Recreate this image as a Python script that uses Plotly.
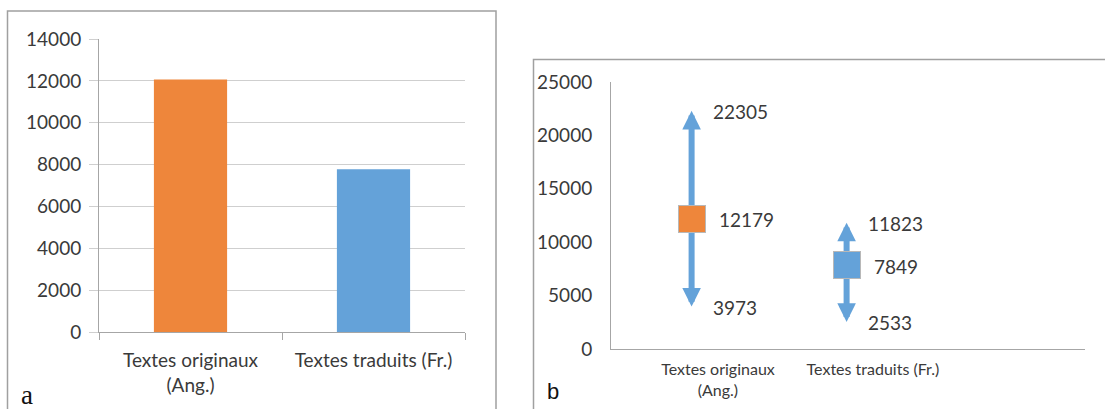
import plotly.graph_objects as go

W, H = 1105, 409

# ---- data: panel a ----
categories_a = ["Textes originaux<br>(Ang.)", "Textes traduits (Fr.)"]
values_a = [12070, 7780]
yticks_a = [0, 2000, 4000, 6000, 8000, 10000, 12000, 14000]

# ---- data: panel b ----
categories_b = ["Textes originaux<br>(Ang.)", "Textes traduits (Fr.)"]
means_b = [12179, 7849]
maxs_b = [22305, 11823]
mins_b = [3973, 2533]
yticks_b = [0, 5000, 10000, 15000, 20000, 25000]

ORANGE = "#EE863B"
BLUE = "#64A2D9"
GRID = "#CFCFCF"
AXIS = "#A6A6A6"
TXT = "#3A3A3A"
FONT = "Lato"

def px(x):
    return x / W

def py(y):
    return (H - y) / H

fig = go.Figure()

fig.add_trace(go.Bar(
    x=categories_a, y=values_a, width=0.4,
    marker=dict(color=[ORANGE, BLUE], line=dict(width=0)),
    xaxis="x", yaxis="y", showlegend=False, hoverinfo="skip",
))

# invisible anchor trace for panel b axes
fig.add_trace(go.Scatter(
    x=[0, 1], y=means_b, mode="markers", marker=dict(opacity=0),
    xaxis="x2", yaxis="y2", showlegend=False, hoverinfo="skip",
))

fig.update_layout(
    width=W, height=H,
    margin=dict(l=0, r=0, t=0, b=0, pad=0),
    paper_bgcolor="white", plot_bgcolor="white",
    font=dict(family=FONT, color=TXT),
    xaxis=dict(
        domain=[px(99), px(465)], anchor="y", type="category",
        range=[-0.5, 1.5], showline=True, linecolor=AXIS, linewidth=1,
        ticks="outside", tickson="boundaries", ticklen=7, tickcolor=AXIS,
        showgrid=False, tickfont=dict(size=19, color=TXT), automargin=False,
        ticklabelstandoff=11,
    ),
    yaxis=dict(
        domain=[py(332), py(39)], anchor="x", range=[0, 14000],
        tickvals=yticks_a, ticktext=[str(v) for v in yticks_a],
        showgrid=True, gridcolor=GRID, gridwidth=1,
        ticks="outside", ticklen=9, tickcolor=GRID, showline=True,
        linecolor=AXIS, zeroline=False, tickfont=dict(size=19, color=TXT),
        ticklabelstandoff=4, automargin=False,
    ),
    xaxis2=dict(
        domain=[px(611), px(1085)], anchor="y2", range=[-0.69, 2.368],
        tickvals=[0, 1], ticktext=categories_b, showline=True,
        linecolor=AXIS, ticks="", showgrid=False, zeroline=False,
        tickfont=dict(size=16, color=TXT), automargin=False,
        ticklabelstandoff=6,
    ),
    yaxis2=dict(
        domain=[py(349), py(82)], anchor="x2", range=[0, 25000],
        tickvals=yticks_b, ticktext=[str(v) for v in yticks_b],
        showline=True, linecolor=AXIS, ticks="",
        showgrid=False, zeroline=False, tickfont=dict(size=19, color=TXT),
        ticklabelstandoff=14, automargin=False,
    ),
)

# panel borders
fig.add_shape(type="rect", xref="paper", yref="paper",
              x0=px(7.5), x1=px(496), y0=-0.1, y1=py(11),
              line=dict(color="#A0A0A0", width=1.5))
fig.add_shape(type="rect", xref="paper", yref="paper",
              x0=px(533.5), x1=1.1, y0=-0.1, y1=py(59.5),
              line=dict(color="#A0A0A0", width=1.5))

OFF = -0.17
ann = []
# arrows (mean -> max, mean -> min)
for i in range(2):
    xc = i + OFF
    for tip in (maxs_b[i], mins_b[i]):
        ann.append(dict(
            x=xc, y=tip, ax=xc, ay=means_b[i], xref="x2", yref="y2",
            axref="x2", ayref="y2", text="", showarrow=True,
            arrowhead=2, arrowwidth=6, arrowsize=0.62, arrowcolor=BLUE,
            standoff=0,
        ))
# mean squares
for i, col in enumerate([ORANGE, BLUE]):
    ann.append(dict(
        x=i + OFF, y=means_b[i], xref="x2", yref="y2", text=" ",
        showarrow=False, width=26, height=26, bgcolor=col,
        bordercolor="#B8B8B8", borderwidth=1, borderpad=0,
    ))
# value labels
for i in range(2):
    for val, shift in ((maxs_b[i], 19), (means_b[i], 25), (mins_b[i], 19)):
        ann.append(dict(
            x=i + OFF, y=val, xref="x2", yref="y2", text=str(val),
            showarrow=False, xanchor="left", yanchor="middle",
            xshift=shift, yshift=-1, font=dict(size=19, color=TXT),
        ))
# panel letters
ann.append(dict(x=px(19), y=py(412), xref="paper", yref="paper", text="a",
                showarrow=False, xanchor="left", yanchor="bottom",
                font=dict(family="Liberation Serif", size=27, color="#111111")))
ann.append(dict(x=px(545), y=py(406), xref="paper", yref="paper", text="b",
                showarrow=False, xanchor="left", yanchor="bottom",
                font=dict(family="Liberation Sans", size=22, color="#111111")))
fig.update_layout(annotations=ann)

fig.write_html(
    "out.html",
    config={"displayModeBar": False},
    post_script="document.body.style.margin='0';document.body.style.overflow='hidden';",
)
